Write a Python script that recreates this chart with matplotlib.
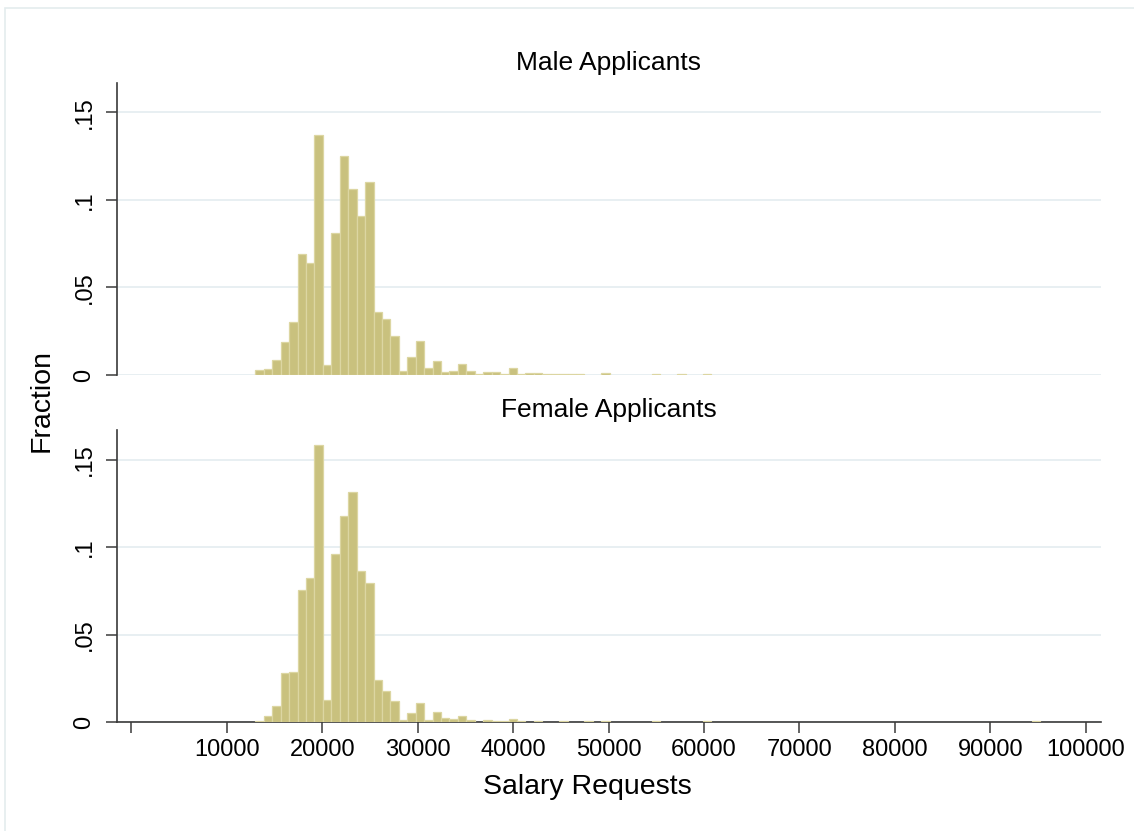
"""
Salary request histograms, male vs female applicants (fraction per bin).
"""

import matplotlib.pyplot as plt
import numpy as np
from matplotlib.patches import Rectangle

# ── data ────────────────────────────────────────────────────────────────
BIN_START = 13000
BIN_WIDTH = 884

MALE_BINS = [0, 1, 2, 3, 4, 5, 6, 7, 8, 9, 10, 11, 12, 13, 14, 15, 16, 17,
             18, 19, 20, 21, 22, 23, 24, 25, 26, 27, 28, 29, 30, 31, 32, 33,
             34, 35, 36, 37, 38, 41, 47, 50, 53]
MALE_FRAC = [0.0027, 0.0032, 0.0084, 0.019, 0.030, 0.069, 0.064, 0.137,
             0.0057, 0.081, 0.125, 0.106, 0.091, 0.110, 0.036, 0.032, 0.022,
             0.0020, 0.0100, 0.0195, 0.0038, 0.0082, 0.0018, 0.0025, 0.0065,
             0.0024, 0.0005, 0.0015, 0.0019, 0.0006, 0.0041, 0.0005, 0.0010,
             0.0009, 0.0007, 0.0007, 0.0008, 0.0004, 0.0004, 0.0012, 0.0004,
             0.0004, 0.0004]

FEMALE_BINS = [0, 1, 2, 3, 4, 5, 6, 7, 8, 9, 10, 11, 12, 13, 14, 15, 16, 17,
               18, 19, 20, 21, 22, 23, 24, 25, 27, 28, 29, 30, 31, 33, 36,
               39, 41, 47, 53, 92]
FEMALE_FRAC = [0.0004, 0.0032, 0.0093, 0.0282, 0.0286, 0.0753, 0.0824,
               0.1587, 0.0128, 0.0959, 0.118, 0.1314, 0.0866, 0.0797, 0.0242,
               0.0177, 0.0122, 0.0013, 0.0054, 0.0111, 0.0012, 0.0055, 0.0021,
               0.0016, 0.0032, 0.0010, 0.0010, 0.0008, 0.0003, 0.0017, 0.0004,
               0.0004, 0.0004, 0.0004, 0.0004, 0.0005, 0.0003, 0.0003]

PANELS = ["Male Applicants", "Female Applicants"]
X_TICKS = [0, 10000, 20000, 30000, 40000, 50000, 60000, 70000, 80000, 90000, 100000]
X_TICK_LABELS = [""] + [str(t) for t in X_TICKS[1:]]
Y_TICKS = [0, 0.05, 0.1, 0.15]
Y_TICK_LABELS = ["0", ".05", ".1", ".15"]

# ── style ───────────────────────────────────────────────────────────────
BAR_COLOR = "#C9C17E"
BAR_EDGE = "#DCD6A2"
GRID_COLOR = "#E6EEF1"
AXIS_COLOR = "#3A3A3A"
TICK_SIZE = 17
TITLE_SIZE = 19
LABEL_SIZE = 20.5

plt.rcParams["font.family"] = "Liberation Sans"

fig = plt.figure(figsize=(11.34, 8.31), dpi=100)
fig.patch.set_facecolor("white")

# faint outer frame (runs off the right/bottom edge)
fig.patches.append(Rectangle((5 / 1134, -0.1), 1.2, (831 - 8) / 831 + 0.1,
                             transform=fig.transFigure, fill=False,
                             edgecolor="#E4ECEE", lw=1.2))

left, right = 117 / 1134, 1101 / 1134
ax_top = fig.add_axes([left, 1 - 375 / 831, right - left, (375 - 82.7) / 831])
ax_bot = fig.add_axes([left, 1 - 722 / 831, right - left, (722 - 430) / 831])

for ax, title, bins, frac in [
    (ax_top, PANELS[0], MALE_BINS, MALE_FRAC),
    (ax_bot, PANELS[1], FEMALE_BINS, FEMALE_FRAC),
]:
    lefts = BIN_START + BIN_WIDTH * np.asarray(bins)
    ax.bar(lefts, frac, width=BIN_WIDTH, align="edge", color=BAR_COLOR,
           edgecolor=BAR_EDGE, lw=0.9, zorder=3)

    ax.set_xlim(-1500, 101600)
    ax.set_ylim(0, 0.167)
    ax.set_yticks(Y_TICKS)
    ax.set_yticklabels(Y_TICK_LABELS, rotation=90, va="center",
                       fontsize=TICK_SIZE)
    ax.grid(axis="y", color=GRID_COLOR, lw=1.3, zorder=0)
    ax.set_axisbelow(True)

    for side in ["top", "right"]:
        ax.spines[side].set_visible(False)
    ax.spines["left"].set_color(AXIS_COLOR)
    ax.spines["left"].set_linewidth(1.2)
    ax.tick_params(axis="y", length=8, width=1.1, color=AXIS_COLOR, pad=7.5)

    ax.set_title(title, fontsize=TITLE_SIZE, pad=9)

# top panel: no x axis
ax_top.spines["bottom"].set_visible(False)
ax_top.set_xticks([])

ax_bot.spines["bottom"].set_color(AXIS_COLOR)
ax_bot.spines["bottom"].set_linewidth(1.2)
ax_bot.set_xticks(X_TICKS)
ax_bot.set_xticklabels(X_TICK_LABELS, fontsize=TICK_SIZE)
ax_bot.tick_params(axis="x", length=8, width=1.1, color=AXIS_COLOR, pad=4)

fig.text(42 / 1134, 1 - 401 / 831, "Fraction", rotation=90, ha="center",
         va="center", fontsize=LABEL_SIZE)
fig.text(587 / 1134, 1 - 787 / 831, "Salary Requests", ha="center",
         va="center", fontsize=LABEL_SIZE)

fig.savefig("out.png", dpi=100)
